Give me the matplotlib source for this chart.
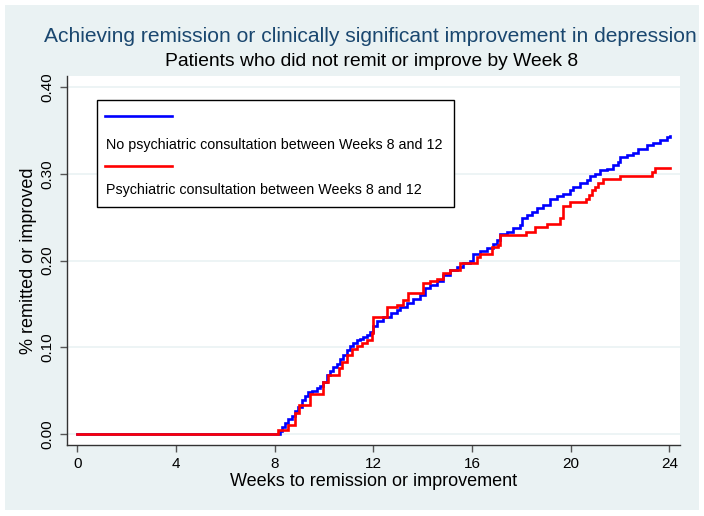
import matplotlib
matplotlib.use("Agg")
import matplotlib.pyplot as plt
from matplotlib.patches import Rectangle
from matplotlib.lines import Line2D

plt.rcParams['font.family'] = ['Liberation Sans', 'DejaVu Sans']

# Kaplan-Meier style cumulative proportions
blue_t = [0, 8.2, 8.28, 8.42, 8.56, 8.69, 8.82, 8.96, 9.1, 9.23, 9.36, 9.5, 9.7, 9.84,
          9.97, 10.11, 10.24, 10.38, 10.51, 10.65, 10.78, 10.92, 11.05, 11.19, 11.33,
          11.46, 11.59, 11.73, 11.86, 12.0, 12.14, 12.4, 12.7, 12.95, 13.09, 13.35,
          13.62, 13.89, 14.09, 14.3, 14.57, 14.84, 15.1, 15.38, 15.65, 15.92, 16.03,
          16.32, 16.6, 16.86, 17.0, 17.13, 17.4, 17.67, 17.94, 18.01, 18.22, 18.42,
          18.62, 18.89, 19.16, 19.43, 19.7, 19.97, 20.1, 20.37, 20.65, 20.78, 20.99,
          21.19, 21.46, 21.73, 21.93, 22.0, 22.27, 22.54, 22.74, 23.08, 23.35, 23.62,
          23.89, 24.02]
blue_v = [0, 0.004, 0.008, 0.013, 0.017, 0.021, 0.026, 0.031, 0.039, 0.044, 0.048,
          0.050, 0.053, 0.055, 0.060, 0.068, 0.073, 0.077, 0.081, 0.086, 0.091, 0.097,
          0.101, 0.105, 0.108, 0.110, 0.112, 0.114, 0.118, 0.124, 0.130, 0.135, 0.139,
          0.143, 0.146, 0.151, 0.156, 0.160, 0.168, 0.172, 0.176, 0.183, 0.189, 0.192,
          0.197, 0.200, 0.207, 0.211, 0.214, 0.219, 0.224, 0.230, 0.233, 0.237, 0.241,
          0.249, 0.252, 0.256, 0.260, 0.264, 0.271, 0.274, 0.277, 0.281, 0.285, 0.289,
          0.293, 0.297, 0.300, 0.304, 0.306, 0.310, 0.314, 0.319, 0.322, 0.324, 0.328,
          0.333, 0.336, 0.339, 0.342, 0.343]

red_t = [0, 8.15, 8.56, 8.82, 9.0, 9.43, 9.97, 10.17, 10.6, 10.72, 10.92, 11.12, 11.33,
         11.53, 11.73, 11.93, 12.0, 12.54, 12.95, 13.2, 13.42, 14.0, 14.3, 14.57, 14.84,
         15.1, 15.5, 16.19, 16.32, 16.8, 17.07, 17.13, 18.2, 18.55, 19.03, 19.57, 19.7,
         19.97, 20.6, 20.75, 20.88, 21.0, 21.12, 21.3, 22.0, 23.3, 23.42, 24.02]
red_v = [0, 0.005, 0.010, 0.024, 0.033, 0.046, 0.060, 0.068, 0.076, 0.083, 0.091,
         0.098, 0.101, 0.105, 0.108, 0.116, 0.135, 0.146, 0.149, 0.154, 0.163, 0.174,
         0.176, 0.179, 0.186, 0.189, 0.197, 0.204, 0.208, 0.216, 0.218, 0.229, 0.233,
         0.239, 0.242, 0.249, 0.263, 0.267, 0.271, 0.276, 0.281, 0.285, 0.289, 0.294,
         0.297, 0.302, 0.307, 0.307]

x_ticks = [0, 4, 8, 12, 16, 20, 24]
y_ticks = [0.0, 0.1, 0.2, 0.3, 0.4]
y_ticklabels = ["0.00", "0.10", "0.20", "0.30", "0.40"]

W, H = 704, 516
fig = plt.figure(figsize=(W / 100, H / 100), dpi=100, facecolor='white')
bg = '#EAF2F3'
fig.patches.append(Rectangle((5 / W, 6 / H), 694 / W, 505 / H, transform=fig.transFigure,
                             facecolor=bg, edgecolor='none', zorder=-10))

ax = fig.add_axes([66.7 / W, (H - 445) / H, (680 - 66.7) / W, (445 - 76) / H])
ax.set_zorder(1)
ax.set_facecolor('white')
ax.set_xlim(-0.43, 24.43)
ax.set_ylim(-0.0127, 0.4127)

for y in y_ticks:
    ax.axhline(y, color=bg, lw=1.2, zorder=1)

ax.step(blue_t, blue_v, where='post', color='#0000FF', lw=1.9, zorder=3,
        solid_joinstyle='miter')
ax.step(red_t, red_v, where='post', color='#FF0000', lw=1.9, zorder=4,
        solid_joinstyle='miter')

ax.set_xticks(x_ticks)
ax.set_xticklabels([str(t) for t in x_ticks], fontsize=11)
ax.set_yticks(y_ticks)
ax.set_yticklabels(y_ticklabels, fontsize=11, rotation=90, va='center')
for s in ['top', 'right']:
    ax.spines[s].set_visible(False)
for s in ['left', 'bottom']:
    ax.spines[s].set_color('#333333')
    ax.spines[s].set_linewidth(1.0)
ax.tick_params(axis='both', direction='out', length=5, color='#555555', width=1.0,
               labelcolor='black', pad=4)

ax.set_xlabel('Weeks to remission or improvement', fontsize=13, labelpad=1)
ax.set_ylabel('% remitted or improved', fontsize=13, labelpad=2)

fig.text(370.5 / W, 1 - 37 / H,
         'Achieving remission or clinically significant improvement in depression',
         ha='center', va='center', fontsize=15.1, color='#1A476F')
fig.text(372 / W, 1 - 61 / H, 'Patients who did not remit or improve by Week 8',
         ha='center', va='center', fontsize=13.9, color='black')

# legend drawn manually (Stata layout: key above label), inside the plot area
lax = fig.add_axes([0, 0, 1, 1], facecolor='none')
lax.set_zorder(5)
lax.set_xlim(0, W)
lax.set_ylim(H, 0)
lax.axis('off')
lax.add_patch(Rectangle((97, 100), 454 - 97, 207 - 100, facecolor='white',
                        edgecolor='black', lw=1.0))
lax.add_line(Line2D([105, 172], [116, 116], color='#0000FF', lw=1.9))
lax.add_line(Line2D([105, 172], [166, 166], color='#FF0000', lw=1.9))
lax.text(106, 145, 'No psychiatric consultation between Weeks 8 and 12',
         ha='left', va='center', fontsize=10.3)
lax.text(106, 190, 'Psychiatric consultation between Weeks 8 and 12',
         ha='left', va='center', fontsize=10.3)

fig.savefig('out.png', dpi=100, facecolor='white')
